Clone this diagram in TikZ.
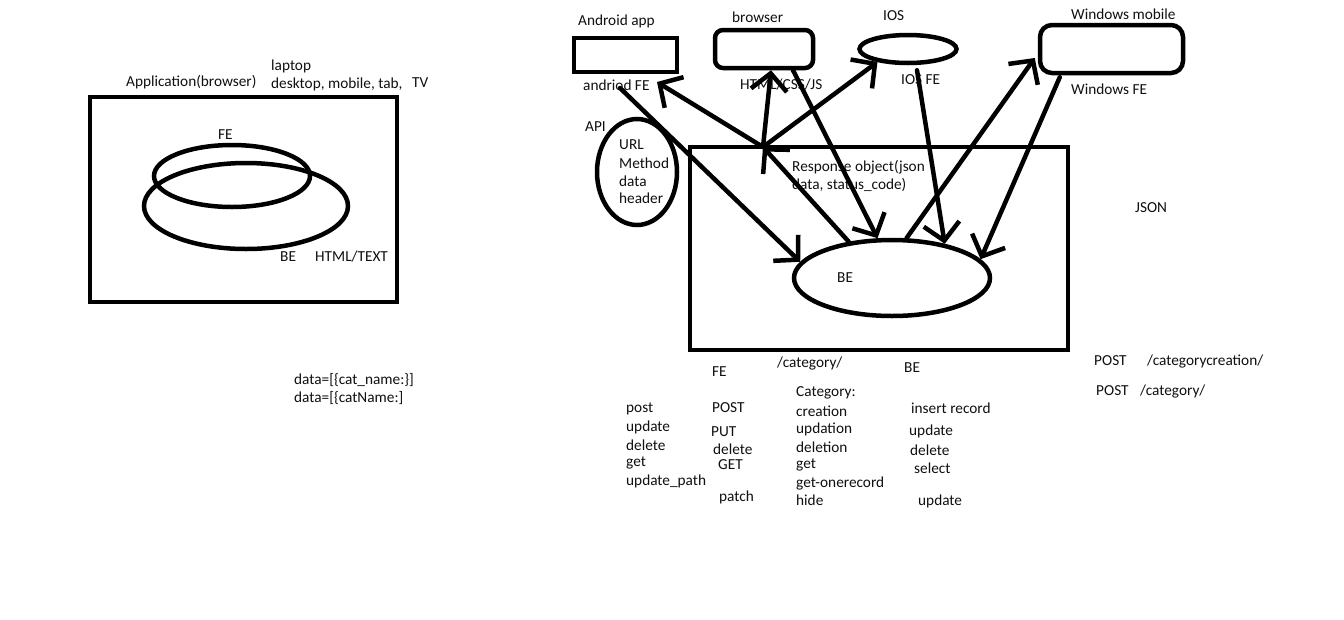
\documentclass[tikz,border=0pt]{standalone}
\usepackage{fontspec}
\setmainfont{Carlito}
\usepackage{tikz}
\usetikzlibrary{arrows.meta,shapes.geometric}
\definecolor{InkBlack}{HTML}{000000}
\definecolor{TextDark}{HTML}{101010}

\begin{document}
\begin{tikzpicture}[x=1pt,y=-1pt,
   thick line/.style={InkBlack,line width=4.5pt},
   arr/.style={thick line,line cap=round,-{Straight Barb[length=17pt,width=36pt]}},
   lbl/.style={anchor=west,inner sep=0pt,text=TextDark,font=\fontsize{15.3}{17}\selectfont},
   box/.style={thick line,draw,rectangle,inner sep=0pt},
   oval/.style={thick line,draw,ellipse,inner sep=0pt}]
   \useasboundingbox[fill=white] (0,0) rectangle (1344,619);

   % left part: browser application
   \draw[thick line] (90,97) rectangle (397,302);
   \draw[thick line] (232,176) ellipse [x radius=78, y radius=31];
   \draw[thick line] (246,206) ellipse [x radius=102, y radius=43];
   \node[lbl] (app) at (126,82) {Application(browser)};
   \node[lbl] (laptop) at (271,66) {laptop};
   \node[lbl] (devices) at (271,84) {desktop, mobile, tab,};
   \node[lbl] (tv) at (412,83) {TV};
   \node[lbl] (fe) at (218,135) {FE};
   \node[lbl] (be) at (280,257) {BE};
   \node[lbl] (html) at (315,257) {HTML/TEXT};
   \node[lbl] (dataA) at (294,380) {data=[\{cat\_name:\}]};
   \node[lbl] (dataB) at (294,398) {data=[\{catName:]};

   % clients
   \node[box,minimum width=103pt,minimum height=34pt] (androidbox) at (625.5,55) {};
   \node[box,rounded corners=8pt,minimum width=98pt,minimum height=38pt] (browserbox) at (764,49) {};
   \node[oval,minimum width=97pt,minimum height=28pt] (iosbox) at (908,49) {};
   \node[box,rounded corners=12pt,minimum width=143pt,minimum height=48pt] (winbox) at (1111.5,49) {};
   \node[lbl] (androidlbl) at (578,21) {Android app};
   \node[lbl] (browserlbl) at (732,17) {browser};
   \node[lbl] (ioslbl) at (883,16) {IOS};
   \node[lbl] (winlbl) at (1071,14) {Windows mobile};
   \node[lbl] (andrfe) at (583,85) {andriod FE};
   \node[lbl] (webfe) at (740,85) {HTML/CSS/JS};
   \node[lbl] (iosfe) at (901,80) {IOS FE};
   \node[lbl] (winfe) at (1071,89) {Windows FE};

   % API
   \node[lbl] (api) at (585,127) {API};
   \node[oval,minimum width=80pt,minimum height=106pt] (apioval) at (637,172) {};
   \node[lbl] (url) at (619,145) {URL};
   \node[lbl] (method) at (619,163) {Method};
   \node[lbl] (data) at (619,181) {data};
   \node[lbl] (header) at (619,198) {header};

   % server
   \node[box,minimum width=378pt,minimum height=203pt] (server) at (879,248.5) {};
   \node[oval,minimum width=196pt,minimum height=76pt] (beoval) at (892,278) {};
   \node[lbl] (belbl) at (837,278) {BE};
   \node[lbl] (respA) at (792,167) {Response object(json};
   \node[lbl] (respB) at (792,185) {data, status\_code)};
   \node[lbl] (json) at (1135,208) {JSON};

   % requests and responses
   \coordinate (hub) at (763,147);
   \coordinate (andrin) at (657,82);
   \coordinate (androut) at (620,88);
   \draw[arr] (beoval.140) -- (hub);
   \draw[arr] (hub) -- (andrin);
   \draw[arr] (hub) -- ([xshift=7pt]browserbox.south);
   \draw[arr] (hub) -- (iosbox.203);
   \draw[arr] (androut) -- (beoval.170);
   \draw[arr] ([xshift=29pt]browserbox.south) -- (beoval.110);
   \draw[arr] ([xshift=9pt,yshift=-5pt]iosbox.south) -- (beoval.33);
   \draw[arr] (beoval.70) -- ([xshift=-3pt,yshift=-9pt]winbox.west);
   \draw[arr] ([xshift=22pt,yshift=-2pt]winbox.south west) -- (beoval.12);

   % notes
   \node[lbl] (cat) at (777,363) {/category/};
   \node[lbl] (colfe) at (712,372) {FE};
   \node[lbl] (colbe) at (904,368) {BE};
   \node[lbl] (postA) at (1094,361) {POST};
   \node[lbl] (pathA) at (1147,361) {/categorycreation/};
   \node[lbl] (postB) at (1096,391) {POST};
   \node[lbl] (pathB) at (1140,391) {/category/};

   \node[lbl] at (626,409) {post};
   \node[lbl] at (626,427) {update};
   \node[lbl] at (626,445) {delete};
   \node[lbl] at (626,463) {get};
   \node[lbl] at (626,481) {update\_path};

   \node[lbl] at (712,408) {POST};
   \node[lbl] at (711,432) {PUT};
   \node[lbl] at (713,449) {delete};
   \node[lbl] at (718,465) {GET};
   \node[lbl] at (719,497) {patch};

   \node[lbl] at (796,393) {Category:};
   \node[lbl] at (796,411) {creation};
   \node[lbl] at (796,429) {updation};
   \node[lbl] at (796,447) {deletion};
   \node[lbl] at (796,465) {get};
   \node[lbl] at (796,483) {get-onerecord};
   \node[lbl] at (796,500) {hide};

   \node[lbl] at (911,408) {insert record};
   \node[lbl] at (909,431) {update};
   \node[lbl] at (910,450) {delete};
   \node[lbl] at (914,468) {select};
   \node[lbl] at (918,501) {update};
\end{tikzpicture}
\end{document}
